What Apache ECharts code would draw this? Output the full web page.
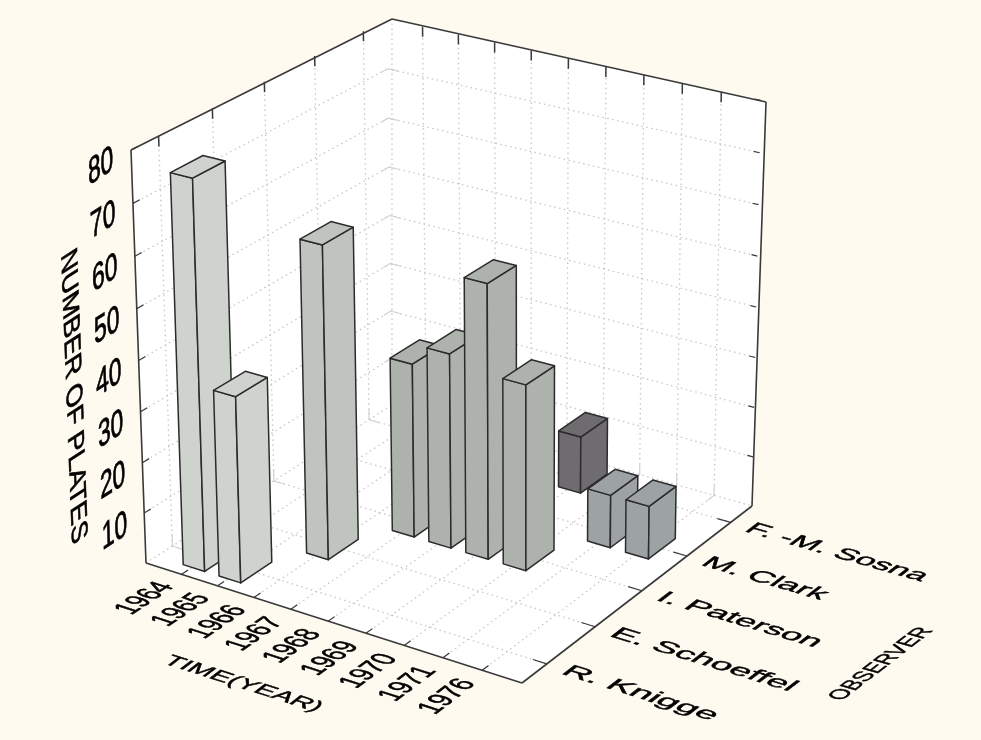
<!DOCTYPE html>
<html>
<head>
<meta charset="utf-8">
<style>
  html, body { margin: 0; padding: 0; background: #fefaef; }
  #myChart { width: 981px; height: 740px; }
</style>
<script src="https://cdn.jsdelivr.net/npm/echarts@6/dist/echarts.min.js"></script>
</head>
<body>
<div id="myChart"></div>
<script>
var years = ['1964', '1965', '1966', '1967', '1968', '1969', '1970', '1971', '1976']
var observers = ['R. Knigge', 'E. Schoeffel', 'I. Paterson', 'M. Clark', 'F. -M. Sosna']
var valueTicks = [10, 20, 30, 40, 50, 60, 70, 80]
var barYear = [0, 1, 2, 3, 4, 5, 6, 5, 7, 8]
var barObserver = [0, 0, 1, 2, 2, 2, 2, 4, 3, 3]
var barValue = [76, 36.5, 61.5, 34.5, 38.5, 54, 36.5, 11.5, 10.5, 10.5]
var observerColors = ['#cfd3ce', '#c0c4bf', '#adb3ac', '#9da2a4', '#6f6c70']

var FONT = 'Liberation Sans'
var MAX_VALUE = 80

// the box corners on screen, L = left, F = front, R = right, B = back, 0 floor, 1 top
var L0 = [146, 563]
var F0 = [522, 683]
var R0 = [752, 506]
var B0 = [392, 405]
var L1 = [131, 150]
var B1 = [392, 19]
var R1 = [766, 102]

// perspective weights from the corners
var det = (F0[0] - R0[0]) * (B0[1] - R0[1]) - (B0[0] - R0[0]) * (F0[1] - R0[1])
var wa = ((L0[0] - R0[0]) * (B0[1] - R0[1]) - (B0[0] - R0[0]) * (L0[1] - R0[1])) / det
var wb = ((F0[0] - R0[0]) * (L0[1] - R0[1]) - (L0[0] - R0[0]) * (F0[1] - R0[1])) / det
var wc = (L0[1] - wb * B0[1] + B1[1] * (wb - 1)) / (L1[1] - B1[1])

// x: along years 0..1, y: along observers 0..1, z: along value 0..1
function project (x, y, z) {
  var w = 1 + x * (wa - 1) + y * (wb - 1) + z * (wc - 1)
  return [
    (L0[0] + x * (wa * F0[0] - L0[0]) + y * (wb * B0[0] - L0[0]) + z * (wc * L1[0] - L0[0])) / w,
    (L0[1] + x * (wa * F0[1] - L0[1]) + y * (wb * B0[1] - L0[1]) + z * (wc * L1[1] - L0[1])) / w
  ]
}

function yearPos (i) { return (i + 1) / 10 }
function observerPos (j) { return (j + 0.5) / 5 }

function unit (a, b) {
  var dx = b[0] - a[0]
  var dy = b[1] - a[1]
  var len = Math.sqrt(dx * dx + dy * dy)
  return [dx / len, dy / len]
}

// text lying in a plane: u is where its baseline runs, w where "down" in the letters goes
function planeText (api, text, pos, u, w, opt) {
  var rot = Math.atan2(-u[1], u[0])
  var ct = Math.cos(rot)
  var st = Math.sin(rot)
  var k = w[0] * ct - w[1] * st
  var sy = w[0] * st + w[1] * ct
  var su = opt.wide / 20
  var sw = opt.tall / 20
  var c = api.coord(pos)
  return {
    type: 'text',
    x: c[0],
    y: c[1],
    rotation: rot,
    scaleX: su,
    scaleY: sy * sw,
    skewX: Math.atan(k / sy),
    style: {
      text: text,
      x: 0,
      y: 0,
      fill: '#000',
      stroke: '#000',
      lineWidth: 0.45,
      align: opt.align,
      verticalAlign: 'middle',
      font: '20px "' + FONT + '"'
    }
  }
}

function line (api, a, b, stroke, width, dash) {
  var p = api.coord(a)
  var q = api.coord(b)
  return {
    type: 'line',
    shape: { x1: p[0], y1: p[1], x2: q[0], y2: q[1] },
    style: { stroke: stroke, lineWidth: width, lineDash: dash || null, fill: null }
  }
}

function poly (api, pts, fill, stroke, width) {
  return {
    type: 'polygon',
    shape: { points: pts.map(function (p) { return api.coord(p) }) },
    style: { fill: fill, stroke: stroke, lineWidth: width, lineJoin: 'round' }
  }
}

function renderFrame (params, api) {
  var ch = []
  var GRID = '#c6c6c6'
  var HOOK = '#d4d4d4'
  var DOT = [1.5, 3.5]
  var AXIS = '#3a3a3a'
  ch.push(poly(api, [L0, F0, R0, B0], '#fff', null, 0))
  ch.push(poly(api, [L0, L1, B1, B0], '#fff', null, 0))
  ch.push(poly(api, [B0, B1, R1, R0], '#fff', null, 0))
  // dotted grid
  valueTicks.forEach(function (v) {
    var z = v / MAX_VALUE
    if (v < MAX_VALUE) {
      ch.push(line(api, project(0, 0, z), project(0, 1, z), GRID, 1.3, DOT))
      ch.push(line(api, project(0, 1, z), project(1, 1, z), GRID, 1.3, DOT))
      // the solid bit where the two walls meet
      ch.push(line(api, project(0, 0.97, z), project(0, 1, z), HOOK, 1.2))
      ch.push(line(api, project(0, 1, z), project(0.03, 1, z), HOOK, 1.2))
    }
  })
  years.forEach(function (name, i) {
    var x = yearPos(i)
    ch.push(line(api, project(x, 0, 0), project(x, 1, 0), GRID, 1.3, DOT))
    ch.push(line(api, project(x, 1, 0), project(x, 1, 1), GRID, 1.3, DOT))
    ch.push(line(api, project(x, 1, 0), project(x, 1, 0.03), HOOK, 1.2))
    ch.push(line(api, project(x, 1, 0), project(x, 0.97, 0), HOOK, 1.2))
  })
  observers.forEach(function (name, j) {
    var y = observerPos(j)
    ch.push(line(api, project(0, y, 0), project(1, y, 0), GRID, 1.3, DOT))
    ch.push(line(api, project(0, y, 0), project(0, y, 1), GRID, 1.3, DOT))
    ch.push(line(api, project(0, y, 0), project(0, y, 0.03), HOOK, 1.2))
    ch.push(line(api, project(0, y, 0), project(0.03, y, 0), HOOK, 1.2))
  })
  ch.push(line(api, B0, B1, GRID, 1.3, DOT))
  ch.push(line(api, L0, B0, GRID, 1.3, DOT))
  ch.push(line(api, B0, R0, GRID, 1.3, DOT))
  // box edges
  ch.push(line(api, L1, B1, AXIS, 1.6))
  ch.push(line(api, B1, R1, AXIS, 1.6))
  ch.push(line(api, L1, L0, AXIS, 1.6))
  ch.push(line(api, R1, R0, AXIS, 1.6))
  ch.push(line(api, L0, F0, AXIS, 1.6))
  ch.push(line(api, F0, R0, AXIS, 1.6))
  // ticks
  years.forEach(function (name, i) {
    var x = yearPos(i)
    ch.push(line(api, project(x, 0, 0), project(x, 0.025, 0), AXIS, 1.2))
    ch.push(line(api, project(x, 1, 1), project(x, 1, 0.975), AXIS, 1.5))
  })
  observers.forEach(function (name, j) {
    var y = observerPos(j)
    ch.push(line(api, project(1, y, 0), project(0.965, y, 0), AXIS, 1.2))
    ch.push(line(api, project(0, y, 1), project(0, y, 0.975), AXIS, 1.5))
  })
  valueTicks.forEach(function (v) {
    var z = v / MAX_VALUE
    ch.push(line(api, project(0, 0, z), project(0, 0.025, z), AXIS, 1.2))
    ch.push(line(api, project(1, 1, z), project(0.985, 1, z), AXIS, 1.2))
  })
  // tick labels
  years.forEach(function (name, i) {
    var x = yearPos(i)
    var pos = project(x, -0.055, 0)
    ch.push(planeText(api, name, pos, unit(project(x, 0, 0), project(x, 1, 0)), unit(project(0, -0.1, 0), project(1, -0.1, 0)), { wide: 23.5, tall: 31, align: 'right' }))
  })
  observers.forEach(function (name, j) {
    var y = observerPos(j)
    var pos = project(1.045, y, 0)
    ch.push(planeText(api, name, pos, unit(project(0, y, 0), project(1, y, 0)), unit(project(1, 1, 0), project(1, 0, 0)), { wide: 36.5 - 4 * y, tall: 22, align: 'left' }))
  })
  valueTicks.forEach(function (v) {
    var z = v / MAX_VALUE
    var pos = project(0, -0.063, z)
    ch.push(planeText(api, String(v), pos, unit(project(0, 1, 0), project(0, 0, 0)).map(function (d) { return -d }), unit(project(0, 0, 1), project(0, 0, 0)), { wide: 27, tall: 37, align: 'right' }))
  })
  // axis names
  ch.push(planeText(api, 'TIME(YEAR)', [243, 684], unit(L0, F0), unit(R0, F0), { wide: 28, tall: 20, align: 'center' }))
  ch.push(planeText(api, 'OBSERVER', [881, 664], unit(F0, R0), unit(R0, B0).map(function (d) { return -d }), { wide: 21, tall: 24, align: 'center' }))
  ch.push(planeText(api, 'NUMBER OF PLATES', [73, 397], unit([68, 250], [79, 545]), unit(L0, B0).map(function (d) { return -d }), { wide: 29, tall: 27, align: 'center' }))
  return { type: 'group', children: ch }
}

function renderBar (params, api) {
  var x = yearPos(api.value(0)) + 0.005
  var y = observerPos(api.value(1))
  var z = api.value(2) / MAX_VALUE
  var hx = 0.03
  var hy = 0.06
  var color = observerColors[api.value(1)]
  var EDGE = '#2b2b2b'
  return {
    type: 'group',
    children: [
      poly(api, [project(x - hx, y - hy, 0), project(x + hx, y - hy, 0), project(x + hx, y - hy, z), project(x - hx, y - hy, z)], color, EDGE, 1.5),
      poly(api, [project(x + hx, y - hy, 0), project(x + hx, y + hy, 0), project(x + hx, y + hy, z), project(x + hx, y - hy, z)], color, EDGE, 1.5),
      poly(api, [project(x - hx, y - hy, z), project(x + hx, y - hy, z), project(x + hx, y + hy, z), project(x - hx, y + hy, z)], color, EDGE, 1.5)
    ]
  }
}

// far bars first so the near ones cover them
var barData = barValue.map(function (v, k) { return [barYear[k], barObserver[k], v] })
barData.sort(function (a, b) { return b[1] - a[1] || a[0] - b[0] })

var myChart = echarts.init(document.getElementById('myChart'))
myChart.setOption({
  animation: false,
  backgroundColor: '#fefaef',
  grid: { left: 0, right: 0, top: 0, bottom: 0 },
  xAxis: { type: 'value', min: 0, max: 981, show: false },
  yAxis: { type: 'value', min: 0, max: 740, inverse: true, show: false },
  series: [
    {
      type: 'custom',
      coordinateSystem: 'cartesian2d',
      silent: true,
      clip: false,
      z: 1,
      data: [[0, 0]],
      renderItem: renderFrame
    },
    {
      type: 'custom',
      coordinateSystem: 'cartesian2d',
      silent: true,
      clip: false,
      z: 2,
      encode: { x: 0, y: 1 },
      data: barData,
      renderItem: renderBar
    }
  ]
})
</script>
</body>
</html>
